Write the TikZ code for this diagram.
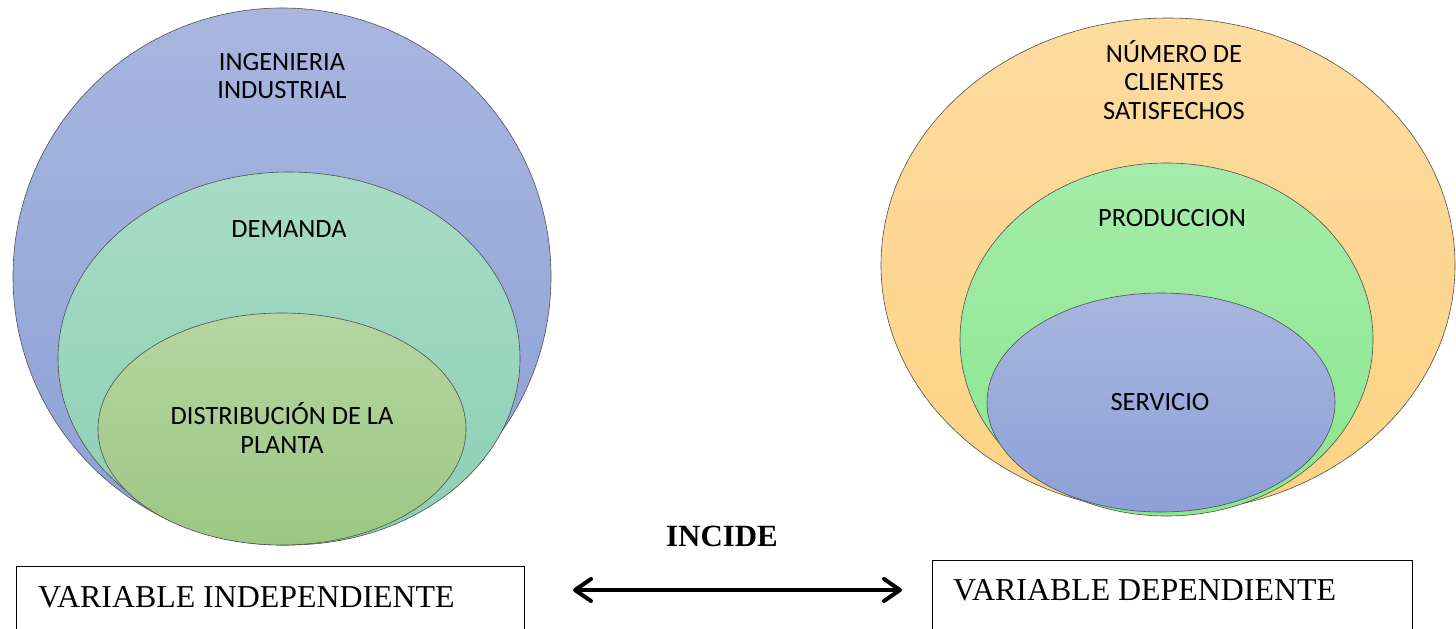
\documentclass[tikz,border=0pt]{standalone}
\usepackage{fontspec}
\setmainfont{Liberation Serif}
\newfontfamily\calib{Carlito}
\usetikzlibrary{shapes.geometric,arrows.meta}

\definecolor{bluetop}{RGB}{168,182,223}
\definecolor{bluebot}{RGB}{141,161,215}
\definecolor{minttop}{RGB}{168,219,197}
\definecolor{mintbot}{RGB}{140,207,180}
\definecolor{olivetop}{RGB}{182,213,162}
\definecolor{olivebot}{RGB}{156,199,131}
\definecolor{orangetop}{RGB}{253,220,160}
\definecolor{orangebot}{RGB}{253,210,132}
\definecolor{greentop}{RGB}{165,236,170}
\definecolor{greenbot}{RGB}{137,231,142}
\definecolor{rimgray}{RGB}{80,80,80}

\tikzset{
  blob/.style={ellipse, draw=rimgray, line width=0.6bp, inner sep=0pt},
  circlabel/.style={font=\calib\fontsize{26.5}{29}\selectfont, align=center, text=black},
  varbox/.style={draw=black, line width=1.3bp, rectangle, inner sep=0pt, anchor=north west},
  boxtext/.style={font=\fontsize{32}{36}\selectfont, anchor=base west, inner sep=0pt},
  barbtip/.tip={Straight Barb[length=16bp, width=22bp, line width=4bp, round]},
}

\begin{document}
\begin{tikzpicture}[x=1bp, y=-1bp]
\useasboundingbox (0,0) rectangle (1456,629);
\clip (0,0) rectangle (1456,629);

% left nest: industrial engineering > demand > plant layout
\node[blob, top color=bluetop, bottom color=bluebot,
      minimum width=538bp, minimum height=537bp] (ing) at (282,276.5) {};
\node[blob, top color=minttop, bottom color=mintbot,
      minimum width=462bp, minimum height=373bp] (dem) at (289,358.5) {};
\node[blob, top color=olivetop, bottom color=olivebot,
      minimum width=368bp, minimum height=232bp] (dist) at (282,429) {};

\node[circlabel] (ingT) at (282,76) {INGENIERIA\\INDUSTRIAL};
\node[circlabel] (demT) at (289,229) {DEMANDA};
\node[circlabel] (distT) at (282,428) {DISTRIBUCIÓN DE LA\\PLANTA};

% right nest: satisfied clients > production > service
\node[blob, top color=orangetop, bottom color=orangebot,
      minimum width=574bp, minimum height=494bp] (cli) at (1168,265) {};
\node[blob, top color=greentop, bottom color=greenbot,
      minimum width=413bp, minimum height=353bp] (prod) at (1166.5,339.5) {};
\node[blob, top color=bluetop, bottom color=bluebot,
      minimum width=348bp, minimum height=219bp] (serv) at (1161,402.5) {};

\node[circlabel] (cliT) at (1174,80) {NÚMERO DE\\CLIENTES\\SATISFECHOS};
\node[circlabel] (prodT) at (1172,218) {PRODUCCION};
\node[circlabel] (servT) at (1160,402) {SERVICIO};

% variable boxes and the relation between them
\node[varbox, minimum width=508bp, minimum height=90bp] (indep) at (16,566) {};
\node[varbox, minimum width=480bp, minimum height=90bp] (dep) at (932,560) {};
\node[boxtext] (indepT) at (38,607) {VARIABLE INDEPENDIENTE};
\node[boxtext] (depT) at (953,600) {VARIABLE DEPENDIENTE};

\node[font=\bfseries\fontsize{31}{34}\selectfont, inner sep=0pt] (inc) at (722,536) {INCIDE};

\coordinate (arrL) at (573,590);
\coordinate (arrR) at (902,590);
\draw[line width=4bp, barbtip-barbtip] (arrL) -- (arrR);
\end{tikzpicture}
\end{document}
